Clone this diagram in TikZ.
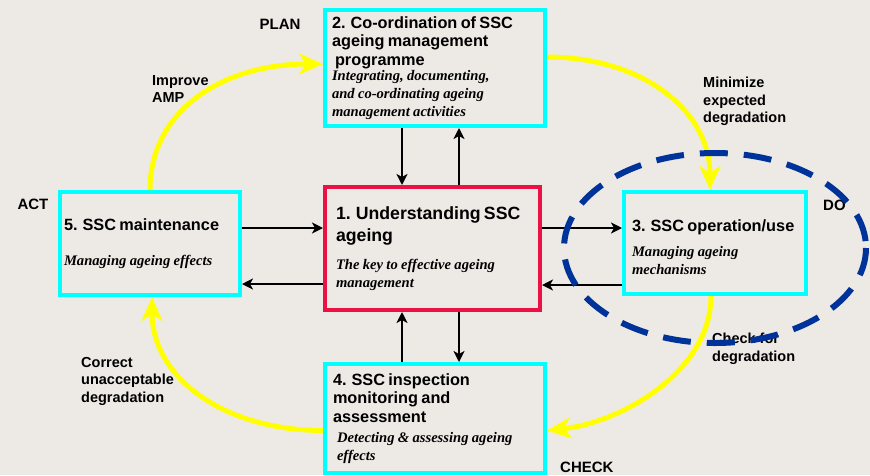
\documentclass[tikz,border=0pt]{standalone}
\usepackage{fontspec}
\setmainfont{Liberation Serif}
\setsansfont{Liberation Sans}
\usetikzlibrary{arrows.meta, positioning, calc}
\definecolor{bgcolor}{RGB}{237, 234, 230}
\definecolor{stagecolor}{RGB}{0, 255, 255}
\definecolor{corecolor}{RGB}{236, 16, 68}
\definecolor{cyclecolor}{RGB}{255, 255, 0}
\definecolor{docolor}{RGB}{0, 51, 153}
\newcommand{\headfont}{\sffamily\bfseries\fontsize{16.3}{18.5}\selectfont}
\newcommand{\notefont}{\rmfamily\bfseries\itshape\fontsize{14.6}{18}\selectfont}
\tikzstyle{stagebox} = [
    rectangle,
    draw=stagecolor,
    line width=4pt,
    fill=bgcolor,
    align=left,
    inner sep=0pt
]
\tikzstyle{corebox} = [
    stagebox,
    draw=corecolor
]
\tikzstyle{arrow} = [
    -{Stealth[length=11pt, width=11pt, inset=3pt]},
    line width=2pt,
    color=black
]
\tikzstyle{cyclearrow} = [
    -{Stealth[length=24pt, width=21pt, inset=7pt]},
    line width=5pt,
    color=cyclecolor
]
\tikzstyle{steplabel} = [
    font=\sffamily\bfseries\fontsize{14.5}{17.5}\selectfont,
    align=left,
    anchor=north west,
    inner sep=0pt
]
\tikzstyle{phaselabel} = [
    font=\sffamily\bfseries\fontsize{15}{18}\selectfont,
    inner sep=0pt
]

\begin{document}
\begin{tikzpicture}[x=1pt, y=-1pt]

% Background
\fill[bgcolor] (0, 0) rectangle (870, 475);
\useasboundingbox (0, 0) rectangle (870, 475);

% Box 1: Understanding ageing (centre)
\node[corebox, minimum width=215, minimum height=123, text width=193] (understand) at (432.5, 248.5) {
    {\sffamily\bfseries\fontsize{17.7}{21.5}\selectfont 1. Understanding SSC\\ageing\par}\vspace{10pt}
    {\notefont The key to effective ageing\\management\par}
};

% Box 2: Co-ordination (PLAN)
\node[stagebox, minimum width=220, minimum height=116, text width=206] (coord) at (435, 68) {
    {\headfont 2. Co-ordination of SSC\\ageing management\\\hspace*{3pt}programme\par}\vspace{-3pt}
    {\notefont Integrating, documenting,\\and co-ordinating ageing\\management activities\par}
};

% Box 3: Operation/use (DO)
\node[stagebox, minimum width=182, minimum height=102, text width=166] (operate) at (715, 243) {
    {\headfont\rule{0pt}{20pt}3. SSC operation/use\par}\vspace{7pt}
    {\notefont Managing ageing\\mechanisms\par}
};

% Box 4: Inspection (CHECK)
\node[stagebox, minimum width=220, minimum height=109, text width=204] (inspect) at (435, 418.5) {
    {\headfont 4. SSC inspection\\monitoring and\\assessment\par}\vspace{2pt}
    {\notefont\leftskip=4pt Detecting \& assessing ageing\\effects\par}
};

% Box 5: Maintenance (ACT)
\node[stagebox, minimum width=180, minimum height=103, text width=172] (maintain) at (150, 243.5) {
    {\headfont 5. SSC maintenance\par}\vspace{17pt}
    {\notefont Managing ageing effects\par}
};

% Phase names
\node[phaselabel] (plan) at (280, 24) {PLAN};
\node[phaselabel] (act) at (33, 204) {ACT};
\node[phaselabel, anchor=west] (do) at (823, 205) {DO};
\node[phaselabel, anchor=north west] (check) at (560, 462) {CHECK};

% Black arrows to and from the centre
\draw[arrow] ([xshift=-33]coord.south) -- ([xshift=-33]coord.south |- understand.north);
\draw[arrow] ([xshift=24]coord.south |- understand.north) -- ([xshift=24]coord.south);
\draw[arrow] ([yshift=15.5]maintain.east) -- ([yshift=15.5]maintain.east -| understand.west);
\draw[arrow] ([yshift=-35.5]understand.west) -- ([yshift=-35.5]understand.west -| maintain.east);
\draw[arrow] ([yshift=20.5]understand.east) -- ([yshift=20.5]understand.east -| operate.west);
\draw[arrow] ([yshift=-42]operate.west) -- ([yshift=-42]operate.west -| understand.east);
\draw[arrow] ([xshift=-33]inspect.north) -- ([xshift=-33]inspect.north |- understand.south);
\draw[arrow] ([xshift=24]inspect.north |- understand.south) -- ([xshift=24]inspect.north);

% Yellow improvement cycle
\draw[cyclearrow] (maintain.north) .. controls +(0, -80) and +(-100, 0) .. ([yshift=4]coord.west);
\draw[cyclearrow] ([yshift=11]coord.east) .. controls +(95, 0) and +(0, -80) .. ([xshift=-5]operate.north);
\draw[cyclearrow] ([xshift=-4]operate.south) .. controls +(0, 75) and +(75, -8) .. ([yshift=-12]inspect.east);
\draw[cyclearrow] ([yshift=-12]inspect.west) .. controls +(-100, 0) and +(0, 80) .. ([xshift=2]maintain.south);

% Cycle labels
\node[steplabel] (improve) at (152, 75) {Improve\\AMP};
\node[steplabel] (minimize) at (703, 77) {Minimize\\expected\\degradation};
\node[steplabel] (checkfor) at (712, 333) {Check for\\degradation};
\node[steplabel] (correct) at (81, 357) {Correct\\unacceptable\\degradation};

% Dashed ellipse round the DO stage
\draw[docolor, line width=6pt, dash pattern=on 28pt off 16pt] ([yshift=-5]operate.center) ellipse [x radius=151, y radius=95];

\end{tikzpicture}
\end{document}
